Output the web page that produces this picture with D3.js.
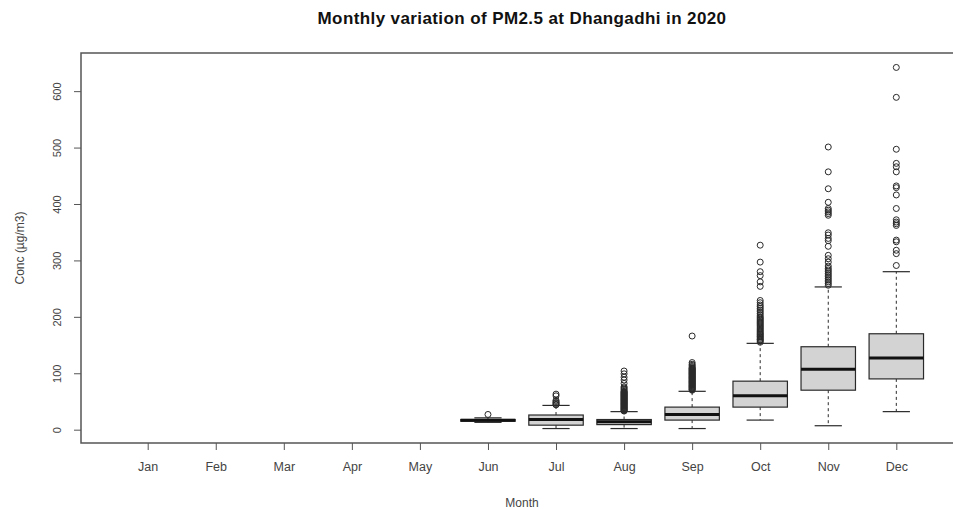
<!DOCTYPE html>
<html>
<head>
<meta charset="utf-8">
<script src="https://cdn.jsdelivr.net/npm/d3@7"></script>
<style>
  html, body { margin: 0; padding: 0; background: #fff; }
  svg { display: block; font-family: "Liberation Sans", Arial, sans-serif; }
</style>
</head>
<body>
<svg id="chart" width="953" height="510"></svg>
<script>
// ---- data ----
const months = ["Jan","Feb","Mar","Apr","May","Jun","Jul","Aug","Sep","Oct","Nov","Dec"];
// box stats per month: [whiskerLow, q1, median, q3, whiskerHigh]; null = no data
const whiskerLow  = [null,null,null,null,null, 13,  2,   2,   2,  17,    7,   32];
const q1Values    = [null,null,null,null,null, 15,  8,   9,   17, 40,    70,  90];
const medians     = [null,null,null,null,null, 16.5,18,  14,  27, 60,    107, 127];
const q3Values    = [null,null,null,null,null, 18,  26,  18,  40, 86,    147, 170];
const whiskerHigh = [null,null,null,null,null, 21,  43,  32,  68, 153,   253, 280];
const outliers = [
  [], [], [], [], [],
  [27],
  [44, 45, 47, 48, 50, 52, 60, 63],
  [33,34,35,36,37,38,39,40,41,42,43,44,45,46,47,48,49,50,51,52,53,54,55,56,57,58,59,60,61,62,63,64,65,66,67,68,70,72,74,76,82,88,93,99,104],
  [70,71,72,73,74,75,76,77,78,79,80,81,82,83,84,85,86,87,88,89,90,91,92,93,94,95,96,97,98,99,100,101,102,103,104,105,106,107,108,109,110,112,114,116,119,166],
  [155,157,159,160,162,164,165,167,169,170,172,174,176,178,180,182,184,186,188,190,192,194,196,198,200,203,206,209,212,215,218,221,225,229,254,262,273,280,297,327],
  [256,259,262,265,268,271,274,277,280,283,286,290,297,303,309,325,335,339,345,349,380,383,386,389,392,403,427,457,501],
  [291,312,318,333,336,362,365,368,372,392,416,429,432,457,466,472,497,589,642]
];
const yTicks = [0, 100, 200, 300, 400, 500, 600];
const titleText = "Monthly variation of PM2.5 at Dhangadhi in 2020";
const xLabel = "Month";
const yLabel = "Conc (µg/m3)";

// ---- layout ----
const svg = d3.select("#chart");
const plotL = 81, plotR = 963, plotT = 53, plotB = 443;

const n = months.length;
const xPad = 0.04 * n;
const x = d3.scaleLinear().domain([0.5 - xPad, n + 0.5 + xPad]).range([plotL, plotR]);

const allVals = [];
months.forEach((m, i) => {
  if (whiskerLow[i] != null) allVals.push(whiskerLow[i], whiskerHigh[i]);
  outliers[i].forEach(v => allVals.push(v));
});
const yMin = d3.min(allVals), yMax = d3.max(allVals);
const yPad = 0.04 * (yMax - yMin);
const y = d3.scaleLinear().domain([yMin - yPad, yMax + yPad]).range([plotB, plotT]);

const ink = "#2a2a2a";
const boxHalf = 0.4, stapleHalf = 0.2;

// boxes
const g = svg.append("g");
months.forEach((m, i) => {
  if (whiskerLow[i] == null) return;
  const c = i + 1;
  const gg = g.append("g");
  // whiskers (dashed)
  gg.append("line").attr("x1", x(c)).attr("x2", x(c))
    .attr("y1", y(q3Values[i])).attr("y2", y(whiskerHigh[i]))
    .attr("stroke", ink).attr("stroke-width", 1).attr("stroke-dasharray", "3,3");
  gg.append("line").attr("x1", x(c)).attr("x2", x(c))
    .attr("y1", y(q1Values[i])).attr("y2", y(whiskerLow[i]))
    .attr("stroke", ink).attr("stroke-width", 1).attr("stroke-dasharray", "3,3");
  // staples
  [whiskerLow[i], whiskerHigh[i]].forEach(v => {
    gg.append("line").attr("x1", x(c - stapleHalf)).attr("x2", x(c + stapleHalf))
      .attr("y1", y(v)).attr("y2", y(v))
      .attr("stroke", ink).attr("stroke-width", 1.2);
  });
  // box
  gg.append("rect")
    .attr("x", x(c - boxHalf)).attr("width", x(c + boxHalf) - x(c - boxHalf))
    .attr("y", y(q3Values[i])).attr("height", y(q1Values[i]) - y(q3Values[i]))
    .attr("fill", "#d3d3d3").attr("stroke", ink).attr("stroke-width", 1.2);
  // median
  gg.append("line").attr("x1", x(c - boxHalf)).attr("x2", x(c + boxHalf))
    .attr("y1", y(medians[i])).attr("y2", y(medians[i]))
    .attr("stroke", "#111").attr("stroke-width", 3);
  // outliers
  gg.selectAll("circle").data(outliers[i]).enter().append("circle")
    .attr("cx", x(c)).attr("cy", d => y(d)).attr("r", 3)
    .attr("fill", "none").attr("stroke", ink).attr("stroke-width", 1);
});

// plot frame
svg.append("rect").attr("x", plotL).attr("y", plotT)
  .attr("width", plotR - plotL).attr("height", plotB - plotT)
  .attr("fill", "none").attr("stroke", "#555").attr("stroke-width", 1.5);

// y axis
const yAxis = svg.append("g").attr("transform", `translate(${plotL},0)`)
  .call(d3.axisLeft(y).tickValues(yTicks).tickSize(7).tickPadding(0).tickFormat(d3.format("d")));
yAxis.select(".domain").remove();
yAxis.selectAll(".tick line").attr("stroke", "#555");
yAxis.selectAll(".tick text")
  .attr("transform", "rotate(-90)")
  .attr("x", 0).attr("y", -24).attr("dy", "0.35em")
  .attr("text-anchor", "middle")
  .style("font-size", "11px").attr("fill", "#444");

// x axis
const xAxis = svg.append("g").attr("transform", `translate(0,${plotB})`)
  .call(d3.axisBottom(x).tickValues(d3.range(1, n + 1)).tickSize(7).tickPadding(12)
    .tickFormat(d => months[d - 1]));
xAxis.select(".domain").remove();
xAxis.selectAll(".tick line").attr("stroke", "#555");
xAxis.selectAll(".tick text").style("font-size", "12.5px").attr("fill", "#444");

// title & labels
svg.append("text").attr("x", (plotL + plotR) / 2).attr("y", 24)
  .attr("text-anchor", "middle").style("font-size", "17px").style("font-weight", "bold")
  .style("letter-spacing", "0.4px")
  .attr("fill", "#111").text(titleText);
svg.append("text").attr("x", (plotL + plotR) / 2).attr("y", 507)
  .attr("text-anchor", "middle").style("font-size", "12px").attr("fill", "#444").text(xLabel);
svg.append("text").attr("transform", `translate(20,${(plotT + plotB) / 2}) rotate(-90)`)
  .attr("text-anchor", "middle").attr("dy", "0.35em")
  .style("font-size", "12px").attr("fill", "#444").text(yLabel);
</script>
</body>
</html>
